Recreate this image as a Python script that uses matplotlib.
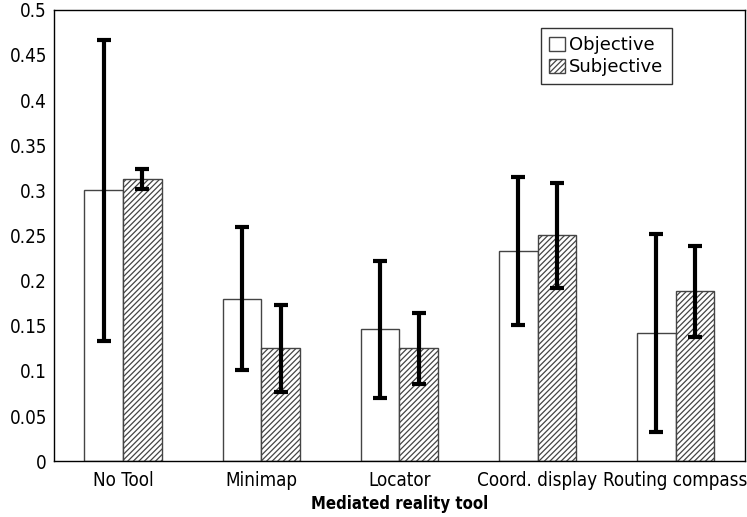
#!/usr/bin/env python3
import numpy as np
import matplotlib
matplotlib.use('Agg')
import matplotlib.pyplot as plt
from matplotlib import font_manager

tools = ['No Tool', 'Minimap', 'Locator', 'Coord. display', 'Routing compass']
objective = [0.300, 0.180, 0.146, 0.233, 0.142]
objective_err = [0.167, 0.079, 0.076, 0.082, 0.110]
subjective = [0.313, 0.125, 0.125, 0.250, 0.188]
subjective_err = [0.011, 0.048, 0.039, 0.058, 0.050]
yticks = [0, 0.05, 0.1, 0.15, 0.2, 0.25, 0.3, 0.35, 0.4, 0.45, 0.5]
ytick_labels = ['0', '0.05', '0.1', '0.15', '0.2', '0.25', '0.3', '0.35', '0.4', '0.45', '0.5']

# condensed DejaVu if installed, else plain DejaVu a bit smaller
condensed = any(f.name == 'DejaVu Sans' and f.stretch == 'condensed'
                for f in font_manager.fontManager.ttflist)
if condensed:
    tick_font = dict(family='DejaVu Sans', fontstretch='condensed', fontsize=13.5)
    lab_font = dict(family='DejaVu Sans', fontstretch='condensed', fontsize=12)
else:
    tick_font = dict(family='DejaVu Sans', fontsize=12)
    lab_font = dict(family='DejaVu Sans', fontsize=11)

plt.rcParams['hatch.linewidth'] = 0.9
plt.rcParams['hatch.color'] = '#222222'

fig, ax = plt.subplots(figsize=(7.47, 5.17), dpi=100)
fig.subplots_adjust(left=0.0723, right=0.997, top=0.981, bottom=0.108)

x = np.arange(len(tools))
w = 0.28
ax.bar(x - w / 2, objective, w, color='white', edgecolor='#444444', linewidth=1.0,
       label='Objective', zorder=2)
ax.bar(x + w / 2, subjective, w, color='white', edgecolor='#444444', linewidth=1.0,
       hatch='//////', label='Subjective', zorder=2)
ax.errorbar(x - w / 2, objective, yerr=objective_err, fmt='none', ecolor='black',
            elinewidth=3, capsize=5, capthick=3, zorder=3)
ax.errorbar(x + w / 2, subjective, yerr=subjective_err, fmt='none', ecolor='black',
            elinewidth=3, capsize=5, capthick=3, zorder=3)

ax.set_xlim(-0.5, len(tools) - 0.5)
ax.set_ylim(0, 0.5)
ax.set_xticks(x)
ax.set_xticklabels(tools, **tick_font)
ax.set_yticks(yticks)
ax.set_yticklabels(ytick_labels, **tick_font)
ax.tick_params(axis='y', length=0, pad=5)
ax.tick_params(axis='x', length=0, pad=7)
ax.set_xlabel('Mediated reality tool', fontweight='bold', labelpad=4, **lab_font)

leg = ax.legend(loc='upper right', bbox_to_anchor=(0.894, 0.96),
                prop={'family': 'DejaVu Sans', 'size': 13},
                frameon=True, fancybox=False, edgecolor='black', handlelength=0.85,
                handleheight=0.85, handletextpad=0.25, borderpad=0.45, labelspacing=0.22,
                borderaxespad=0)
leg.get_frame().set_linewidth(1.0)

for s in ax.spines.values():
    s.set_color('black')
    s.set_linewidth(1.0)

plt.savefig('out.png', dpi=100)
